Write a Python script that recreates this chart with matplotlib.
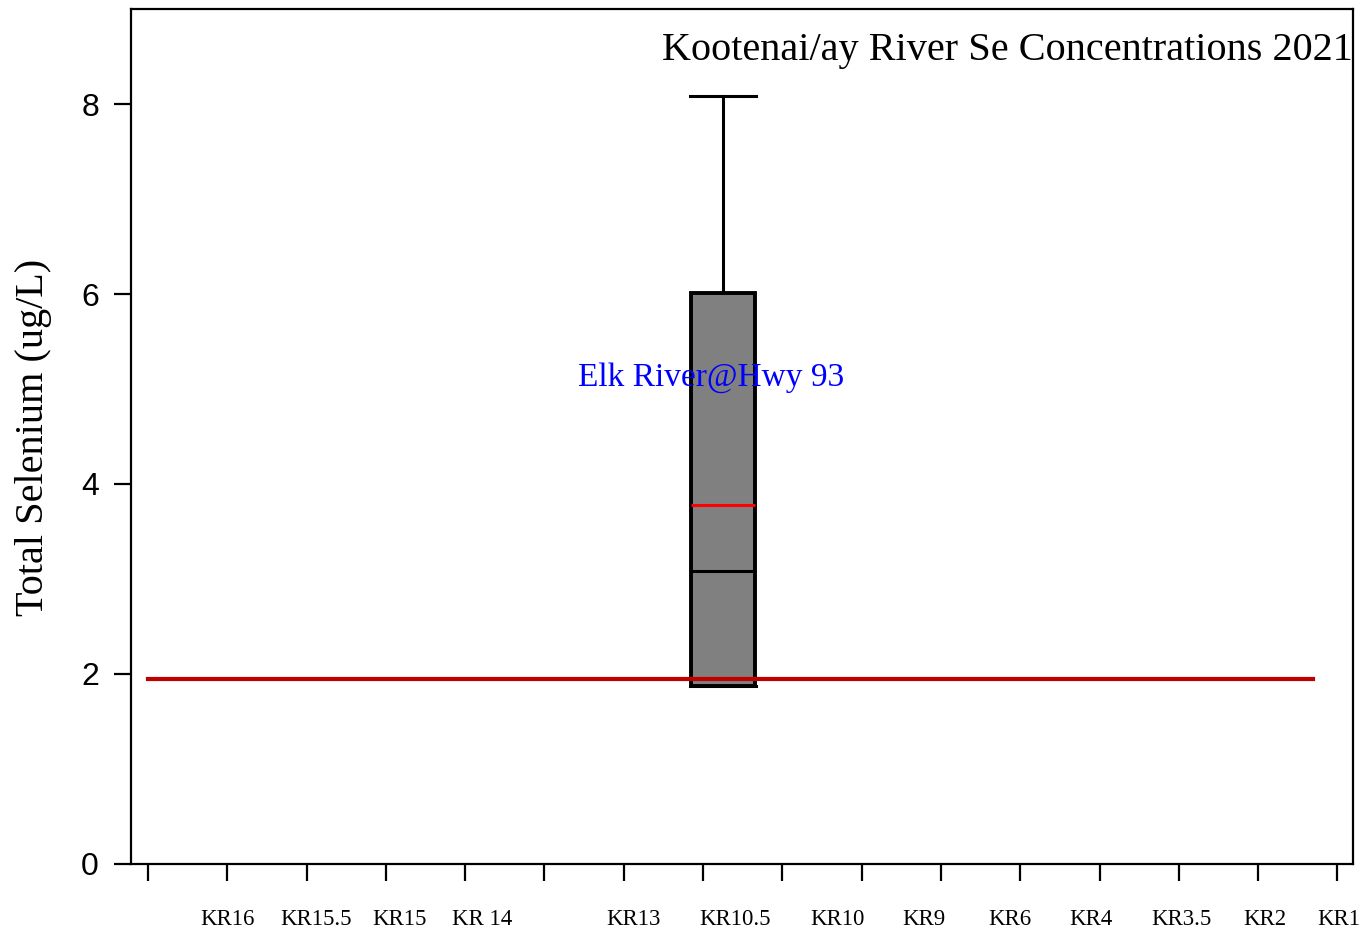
import matplotlib
matplotlib.use("Agg")
import matplotlib.pyplot as plt
import matplotlib.transforms as mtransforms

# Kootenay River selenium, 2021 -- only the Elk River station has data
sites = ["KR16", "KR15.5", "KR15", "KR 14", "KR13", "KR10.5", "KR10",
         "KR9", "KR6", "KR4", "KR3.5", "KR2", "KR1"]
elk_stats = {"whislo": 1.87, "q1": 1.87, "med": 3.08, "q3": 6.01,
             "whishi": 8.08, "mean": 3.78}
guideline = 1.95  # reference line across the sites

serif = "Liberation Serif"
sans = "Liberation Sans"

fig = plt.figure(figsize=(13.64, 9.3), dpi=100)
ax = fig.add_axes([0.0960, 0.0710, 0.8959, 0.9193])

ax.set_xlim(-0.214, 15.195)
ax.set_ylim(0, 9)

# box for the Elk River station
stats = [dict(elk_stats, label="")]
ax.bxp(stats, positions=[7.25], widths=0.81, showmeans=True, meanline=True,
       patch_artist=True, showfliers=False,
       boxprops=dict(facecolor="#808080", edgecolor="black", linewidth=2.8),
       medianprops=dict(color="black", linewidth=2.2),
       meanprops=dict(color="#ff0000", linestyle="-", linewidth=2.2),
       whiskerprops=dict(color="black", linewidth=2.2),
       capprops=dict(color="black", linewidth=2.2), capwidths=0.84)

# guideline
ax.plot([0, 14.69], [guideline, guideline], color="#c00000", linewidth=3,
        zorder=4)

ax.text(7.1, 5.12, "Elk River@Hwy 93", color="#0000ff", fontsize=24,
        family=serif, ha="center", va="center", zorder=5)
ax.text(1.0, 0.952, "Kootenai/ay River Se Concentrations 2021",
        transform=ax.transAxes, fontsize=29, family=serif,
        ha="right", va="center")

# ticks on the x axis are evenly spaced, site names are placed between them
ax.set_xticks(range(16))
ax.set_xticklabels([])
label_x = [1.0, 2.12, 3.17, 4.22, 6.12, 7.4, 8.69, 9.79, 10.87, 11.89,
           13.03, 14.09, 15.02]
trans = mtransforms.blended_transform_factory(ax.transData, ax.transAxes)
for xx, name in zip(label_x, sites):
    ax.text(xx, -0.065, name, transform=trans, fontsize=16.5, family=serif,
            ha="center", va="center", clip_on=False)

ax.set_yticks([0, 2, 4, 6, 8])
ax.set_yticklabels(["0", "2", "4", "6", "8"], family=sans, fontsize=23)
ax.set_ylabel("Total Selenium (ug/L)", family=serif, fontsize=29)
ax.yaxis.set_label_coords(-0.0647, 0.499)

for s in ax.spines.values():
    s.set_linewidth(1.6)
ax.tick_params(axis="both", direction="out", length=12, width=1.6)
ax.tick_params(axis="y", pad=11)

fig.savefig("out.png", dpi=100)
